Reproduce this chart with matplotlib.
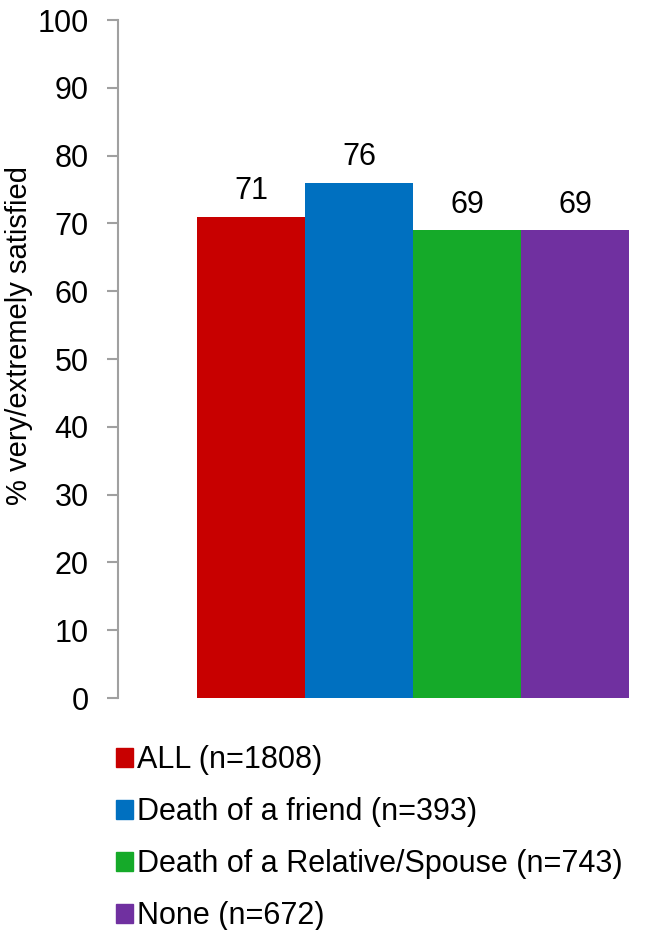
import matplotlib.pyplot as plt
from matplotlib.patches import Patch

plt.rcParams['font.family'] = ['Liberation Sans', 'DejaVu Sans']

# groups and % very/extremely satisfied
groups = ['ALL (n=1808)', 'Death of a friend (n=393)',
          'Death of a Relative/Spouse (n=743)', 'None (n=672)']
values = [71, 76, 69, 69]
colors = ['#C80000', '#0070C0', '#15AA29', '#7030A0']

fig = plt.figure(figsize=(6.53, 9.3), dpi=100)
ax = fig.add_axes([118/653, 1 - 698/930, (650 - 118)/653, 678/930])

x = list(range(len(values)))
bars = ax.bar(x, values, width=1.0, color=colors, zorder=2)
for xi, v in zip(x, values):
    ax.text(xi, v + 2.6, f'{v}', ha='center', va='baseline', fontsize=22)

ax.set_xlim(-0.5 - 79/108, 3.5 + 21/108)
ax.set_ylim(0, 100)
ax.set_yticks(range(0, 101, 10))
ax.tick_params(axis='y', labelsize=22, length=8, width=1.5, color='#A0A0A0', pad=13)
ax.set_xticks([])
for s in ['top', 'right', 'bottom']:
    ax.spines[s].set_visible(False)
ax.spines['left'].set_color('#A0A0A0')
ax.spines['left'].set_linewidth(1.5)
ax.set_ylabel('% very/extremely satisfied', fontsize=21)
ax.yaxis.set_label_coords(-0.16, 0.535)

handles = [Patch(color=c, label=g) for c, g in zip(colors, groups)]
fig.legend(handles=handles, loc='upper left', bbox_to_anchor=(104/653, 1 - 733/930),
           frameon=False, fontsize=22, handlelength=0.55, handleheight=0.55,
           handletextpad=0.12, labelspacing=0.72, borderaxespad=0)

plt.savefig('out.png', dpi=100)
